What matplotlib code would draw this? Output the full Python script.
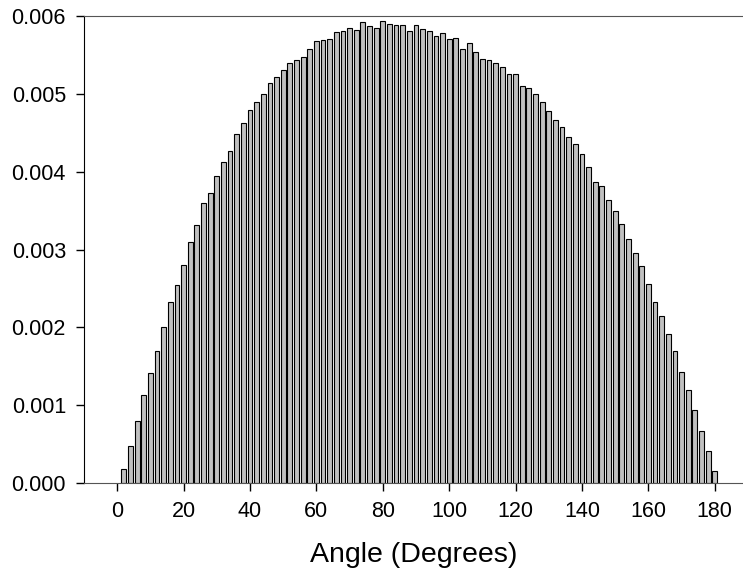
import matplotlib
matplotlib.use("Agg")
import matplotlib.pyplot as plt

angles = list(range(2, 182, 2))
freq = [0.18, 0.47, 0.80, 1.13, 1.41, 1.70, 2.00, 2.32, 2.55, 2.80,
        3.10, 3.31, 3.60, 3.72, 3.95, 4.12, 4.27, 4.48, 4.62, 4.79,
        4.89, 5.00, 5.14, 5.22, 5.30, 5.40, 5.43, 5.47, 5.57, 5.68,
        5.69, 5.70, 5.79, 5.81, 5.84, 5.82, 5.92, 5.87, 5.85, 5.94,
        5.90, 5.88, 5.88, 5.81, 5.88, 5.83, 5.81, 5.74, 5.78, 5.70,
        5.72, 5.58, 5.65, 5.54, 5.45, 5.43, 5.40, 5.34, 5.25, 5.25,
        5.10, 5.07, 5.00, 4.89, 4.78, 4.66, 4.58, 4.45, 4.36, 4.23,
        4.06, 3.87, 3.81, 3.63, 3.49, 3.33, 3.14, 2.95, 2.79, 2.56,
        2.32, 2.14, 1.92, 1.69, 1.42, 1.20, 0.94, 0.67, 0.41, 0.16]
freq = [f / 1000 for f in freq]

x_ticks = list(range(0, 181, 20))
y_ticks = [0.000, 0.001, 0.002, 0.003, 0.004, 0.005, 0.006]

plt.rcParams['font.family'] = ['Liberation Sans', 'DejaVu Sans']

fig = plt.figure(figsize=(7.43, 5.78), dpi=100)
ax = fig.add_axes([84 / 743, 1 - 483 / 578, 1 - 84 / 743, (483 - 16) / 578])

ax.bar(angles, freq, width=1.45, color='#c0c0c0', edgecolor='black', linewidth=0.8)

ax.set_xlim(-10, 188.5)
ax.set_ylim(0, 0.006)
ax.set_xticks(x_ticks)
ax.set_yticks(y_ticks)
ax.set_yticklabels([f"{v:.3f}" for v in y_ticks])
ax.tick_params(direction='out', length=6, width=1, labelsize=15.5)
ax.tick_params(axis='y', pad=7)
ax.tick_params(axis='x', pad=7)

ax.spines['right'].set_visible(False)
ax.spines['top'].set_color('#555555')
ax.spines['bottom'].set_color('#555555')
ax.spines['left'].set_color('black')

ax.set_xlabel("Angle (Degrees)", fontsize=20.5, labelpad=14)

fig.savefig("out.png", dpi=100)
